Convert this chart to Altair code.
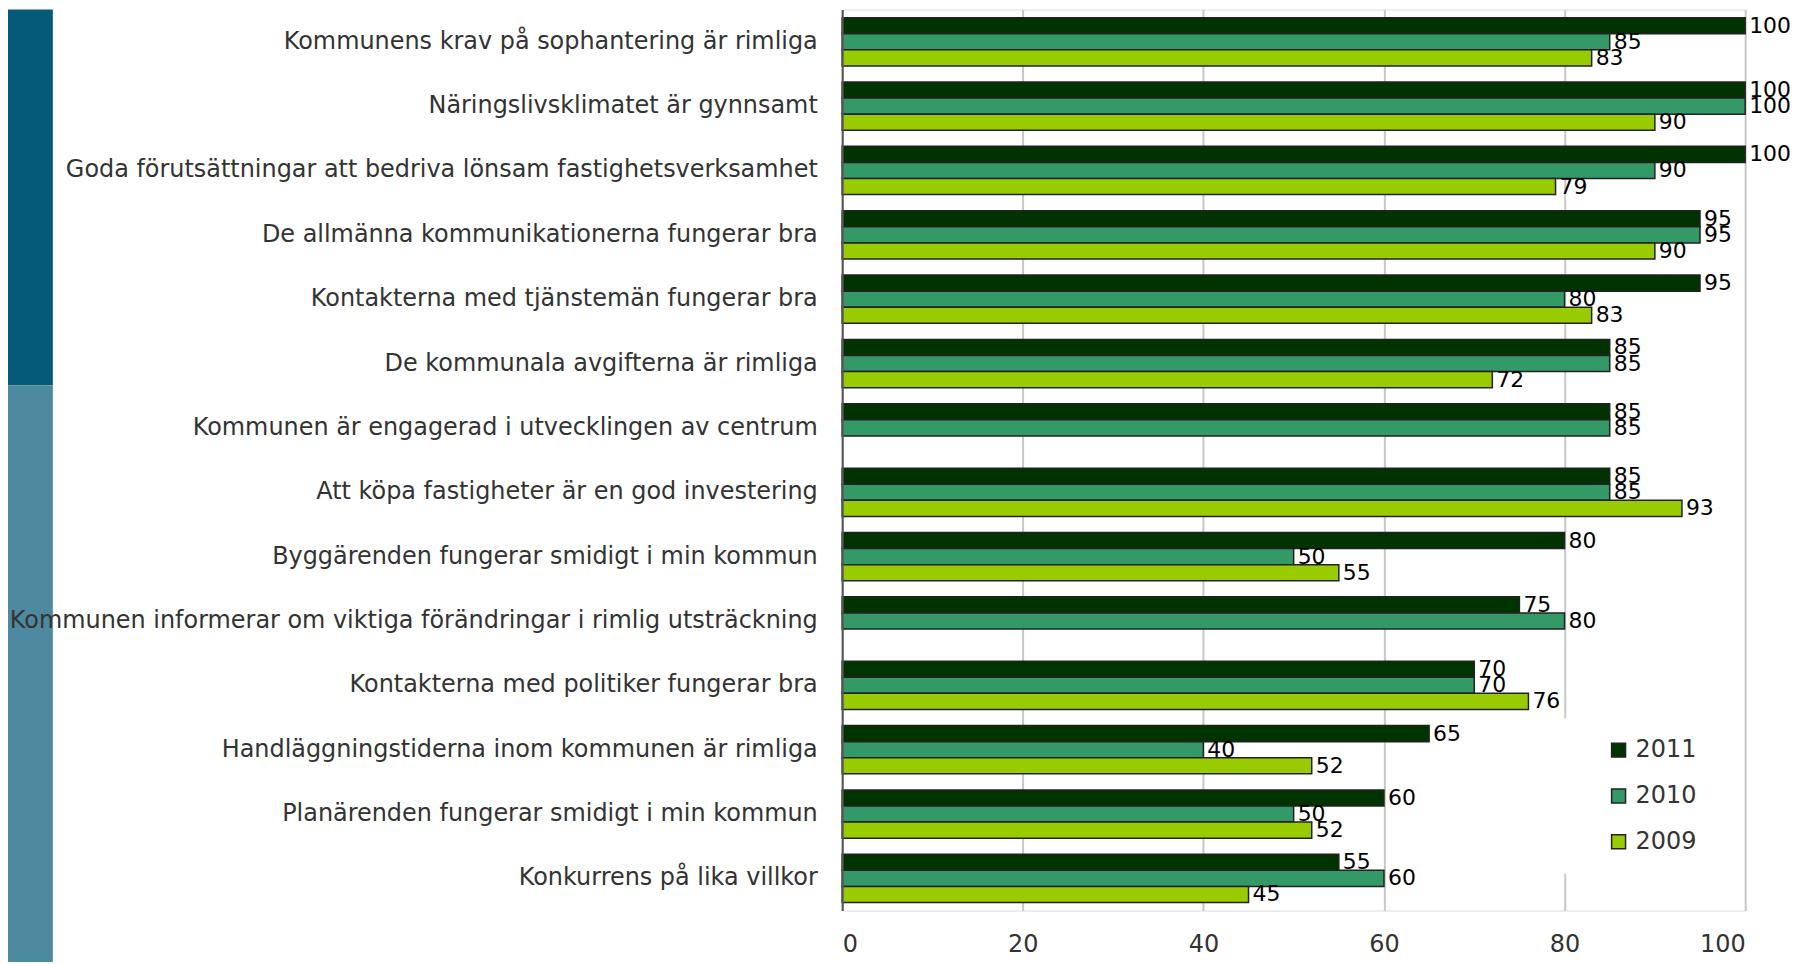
import altair as alt
import pandas as pd

categories = [
    "Kommunens krav på sophantering är rimliga",
    "Näringslivsklimatet är gynnsamt",
    "Goda förutsättningar att bedriva lönsam fastighetsverksamhet",
    "De allmänna kommunikationerna fungerar bra",
    "Kontakterna med tjänstemän fungerar bra",
    "De kommunala avgifterna är rimliga",
    "Kommunen är engagerad i utvecklingen av centrum",
    "Att köpa fastigheter är en god investering",
    "Byggärenden fungerar smidigt i min kommun",
    "Kommunen informerar om viktiga förändringar i rimlig utsträckning",
    "Kontakterna med politiker fungerar bra",
    "Handläggningstiderna inom kommunen är rimliga",
    "Planärenden fungerar smidigt i min kommun",
    "Konkurrens på lika villkor",
]
years = ["2011", "2010", "2009"]
v2011 = [100, 100, 100, 95, 95, 85, 85, 85, 80, 75, 70, 65, 60, 55]
v2010 = [85, 100, 90, 95, 80, 85, 85, 85, 50, 80, 70, 40, 50, 60]
v2009 = [83, 90, 79, 90, 83, 72, None, 93, 55, None, 76, 52, 52, 45]
colors = ["#003300", "#339966", "#99cc00"]
x_ticks = [0, 20, 40, 60, 80, 100]

rows = []
for yr, vals in zip(years, [v2011, v2010, v2009]):
    for c, v in zip(categories, vals):
        if v is not None:
            rows.append({"kategori": c, "year": yr, "value": v})
df = pd.DataFrame(rows)

FONT = "DejaVu Sans"

y_enc = alt.Y(
    "kategori:N",
    sort=categories,
    scale=alt.Scale(paddingInner=0.25, paddingOuter=0.125),
    axis=alt.Axis(
        title=None, ticks=False, domainColor="#555555", domainWidth=2,
        labelFontSize=24, labelColor="#333333", labelFont=FONT,
        labelPadding=25, labelLimit=1000, zindex=1,
    ),
)
yoff = alt.YOffset("year:N", sort=years)
x_enc = alt.X(
    "value:Q",
    scale=alt.Scale(domain=[0, 100], nice=False),
    axis=alt.Axis(
        title=None, values=x_ticks, grid=True, gridColor="#c8c8c8", gridWidth=2,
        domain=False, ticks=False, labelFontSize=24, labelColor="#333333",
        labelFont=FONT, labelPadding=22,
    ),
)

bars = alt.Chart(df).mark_bar(stroke="#222222", strokeWidth=1.5).encode(
    y=y_enc,
    yOffset=yoff,
    x=x_enc,
    color=alt.Color(
        "year:N",
        sort=years,
        scale=alt.Scale(domain=years, range=colors),
        legend=alt.Legend(
            title=None, orient="none", legendX=712, legendY=711,
            symbolType="square", symbolSize=196, symbolStrokeColor="#222222",
            symbolStrokeWidth=1.5, labelFontSize=24, labelFont=FONT,
            labelColor="#333333", rowPadding=22, fillColor="white",
            padding=20, symbolOffset=35, labelOffset=5,
        ),
    ),
)

labels = alt.Chart(df).mark_text(
    align="left", baseline="middle", dx=4, fontSize=22, font=FONT, color="#000000"
).encode(
    y=alt.Y("kategori:N", sort=categories),
    yOffset=yoff,
    x=alt.X("value:Q"),
    text=alt.Text("value:Q"),
)

dummy = pd.DataFrame({"d": [0]})
band_top = alt.Chart(dummy).mark_rect(color="#045a78").encode(
    x=alt.value(-837), x2=alt.value(-792), y=alt.value(0), y2=alt.value(377)
)
band_bottom = alt.Chart(dummy).mark_rect(color="#4d8aa0").encode(
    x=alt.value(-837), x2=alt.value(-792), y=alt.value(377), y2=alt.value(960)
)

chart = alt.layer(band_top, band_bottom, bars, labels).properties(
    width=906, height=904,
    autosize=alt.AutoSizeParams(type="none"),
    padding={"left": 837, "top": 0, "right": 46, "bottom": 50},
).configure_view(stroke="#d0d0d0", strokeWidth=1.5).configure(background="white")

chart.save("out.html", embed_options={"renderer": "svg", "actions": False})
